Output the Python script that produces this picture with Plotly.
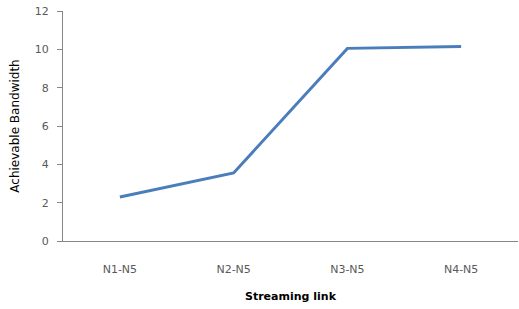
import plotly.graph_objects as go

categories = ["N1-N5", "N2-N5", "N3-N5", "N4-N5"]
bandwidth = [2.3, 3.55, 10.05, 10.15]
y_ticks = [0, 2, 4, 6, 8, 10, 12]

fig = go.Figure()
fig.add_trace(go.Scatter(
    x=categories, y=bandwidth, mode="lines",
    line=dict(color="#4A7EBB", width=3),
))

FAM = "DejaVu Sans, Liberation Sans, sans-serif"
tick_font = dict(family=FAM, size=11, color="#595959")
fig.update_layout(
    width=519, height=309,
    margin=dict(l=63, r=1, t=11, b=68),
    paper_bgcolor="white", plot_bgcolor="white",
    showlegend=False,
    font=tick_font,
    xaxis=dict(
        type="category", range=[-0.5, 3.5],
        showline=True, linecolor="#868686", linewidth=1,
        showgrid=False, ticks="", zeroline=False,
        tickfont=tick_font, ticklabelstandoff=18,
        title=dict(text="<b>Streaming link</b>", font=dict(family=FAM, size=11, color="#000000"), standoff=17),
    ),
    yaxis=dict(
        range=[0, 12], tickvals=y_ticks,
        showline=True, linecolor="#868686", linewidth=1,
        showgrid=False, ticks="outside", ticklen=5, tickcolor="#868686", tickwidth=1,
        zeroline=False, tickfont=tick_font, ticklabelstandoff=6,
        title=dict(text="Achievable Bandwidth", font=dict(family=FAM, size=12, color="#000000"), standoff=12),
    ),
)

fig.write_html("out.html", config={"displayModeBar": False},
               post_script="document.body.style.margin='0';")
